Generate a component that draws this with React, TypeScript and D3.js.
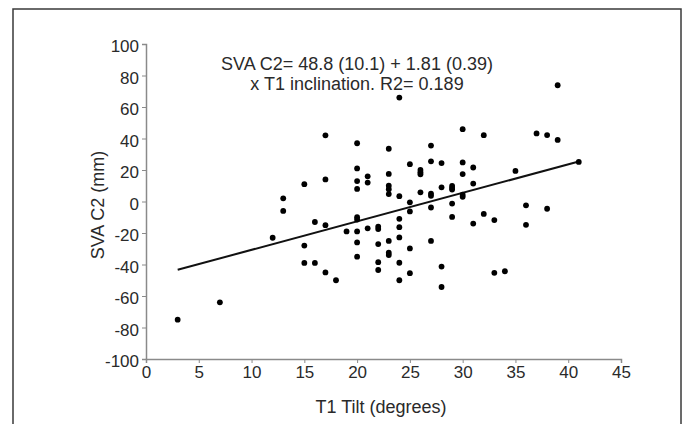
import React, { useEffect, useRef } from 'react'
import * as d3 from 'd3'

// T1 tilt (degrees) for each patient
const tiltValues = [
  3, 7, 12, 13, 13, 15, 15, 15, 16, 16, 17, 17, 17, 17, 18, 19,
  20, 20, 20, 20, 20, 20, 20, 20, 20,
  21, 21, 21,
  22, 22, 22, 22, 22,
  23, 23, 23, 23, 23, 23, 23, 23,
  24, 24, 24, 24, 24, 24, 24,
  25, 25, 25, 25, 25,
  26, 26, 26, 26,
  27, 27, 27, 27, 27, 27,
  28, 28, 28, 28,
  29, 29, 29, 29, 29,
  30, 30, 30, 30, 30,
  31, 31, 31,
  32, 32,
  33, 33,
  34, 35, 36, 36, 37, 38, 38, 39, 39, 41,
]

// SVA C2 (mm), same order as tiltValues
const svaValues = [
  -75, -64, -23, 2, -6, 11, -28, -39, -13, -39, 42, 14, -15, -45, -50, -19,
  37, 21, 13, 8, -10, -11.5, -19, -26, -35,
  16, 12, -17,
  -16, -17.5, -27, -38.5, -43.5,
  33.5, 17.5, 10, 7.8, 4.7, -25, -32.5, -34,
  66, 3.4, -11, -16.3, -22.8, -38.9, -50,
  23.7, -0.5, -6.3, -29.8, -45.5,
  20, 18.5, 17.3, 5.8,
  35.5, 25.5, 5, 3.6, -3.8, -25,
  24.4, 9, -41.3, -54.3,
  9.9, 8.5, 7.6, -1.3, -9.8,
  45.9, 24.8, 17.4, 4.3, 3,
  21.6, 11.4, -14,
  42.1, -7.9,
  -11.8, -45.3,
  -44.3, 19.4, -2.4, -14.8, 43.2, 42.2, -4.6, 73.8, 39.1, 25.1,
]

const xTicks = [0, 5, 10, 15, 20, 25, 30, 35, 40, 45]
const yTicks = [-100, -80, -60, -40, -20, 0, 20, 40, 60, 80, 100]

// fitted line: SVA = -48.8 + 1.81 * tilt
const intercept = -48.8
const slope = 1.81
const fitRange = [3, 41]

const equationLines = [
  'SVA C2= 48.8 (10.1) + 1.81 (0.39)',
  'x T1 inclination. R2= 0.189',
]

const W = 693
const H = 424
const margin = { left: 146, right: 72, top: 44, bottom: 65 }
const FONT = '"Liberation Sans", Arial, Helvetica, sans-serif'
const FS = 18

export default function App() {
  const xRef = useRef<SVGGElement>(null)
  const yRef = useRef<SVGGElement>(null)

  const x = d3.scaleLinear().domain([0, 45]).range([margin.left, W - margin.right])
  const y = d3.scaleLinear().domain([-100, 100]).range([H - margin.bottom, margin.top])

  useEffect(() => {
    const xg = d3.select(xRef.current)
    xg.call(d3.axisBottom(x).tickValues(xTicks).tickSize(4).tickPadding(3)
      .tickFormat(d => String(d)) as any)
    const yg = d3.select(yRef.current)
    yg.call(d3.axisLeft(y).tickValues(yTicks).tickSize(4).tickPadding(3)
      .tickFormat(d => String(d)) as any)

    for (const g of [xg, yg]) {
      g.select('.domain').attr('stroke', '#8a8a8a').attr('stroke-width', 1.5)
      g.selectAll('.tick line').attr('stroke', '#8a8a8a')
      g.selectAll('.tick text')
        .attr('fill', '#2a2a2a')
        .style('font-size', '17px')
        .style('font-family', FONT)
    }
    yg.selectAll('.tick text').attr('dy', '0.45em')
  }, [])

  const fitLine = d3.line<number>()
    .x(d => x(d))
    .y(d => y(intercept + slope * d))

  return (
    <svg width={W} height={H} style={{ position: 'absolute', left: 0, top: 0 }}>
      <rect x={13} y={9} width={668} height={430} fill="#fff" stroke="#3a3a3a" strokeWidth={1.5} />

      <g ref={xRef} transform={`translate(0,${H - margin.bottom})`} />
      <g ref={yRef} transform={`translate(${margin.left},0)`} />

      <path d={fitLine(fitRange) || ''} stroke="#111" strokeWidth={2} fill="none" />

      {tiltValues.map((t, i) => (
        <circle key={i} cx={x(t)} cy={y(svaValues[i])} r={2.9} fill="#000" />
      ))}

      <g fontFamily={FONT} fontSize={FS} fill="#2a2a2a" textAnchor="middle">
        {equationLines.map((s, i) => (
          <text key={i} x={357} y={70 + i * 20}>{s}</text>
        ))}
        <text x={381} y={413}>T1 Tilt (degrees)</text>
        <text transform={`translate(104,205) rotate(-90)`}>SVA C2 (mm)</text>
      </g>
    </svg>
  )
}
